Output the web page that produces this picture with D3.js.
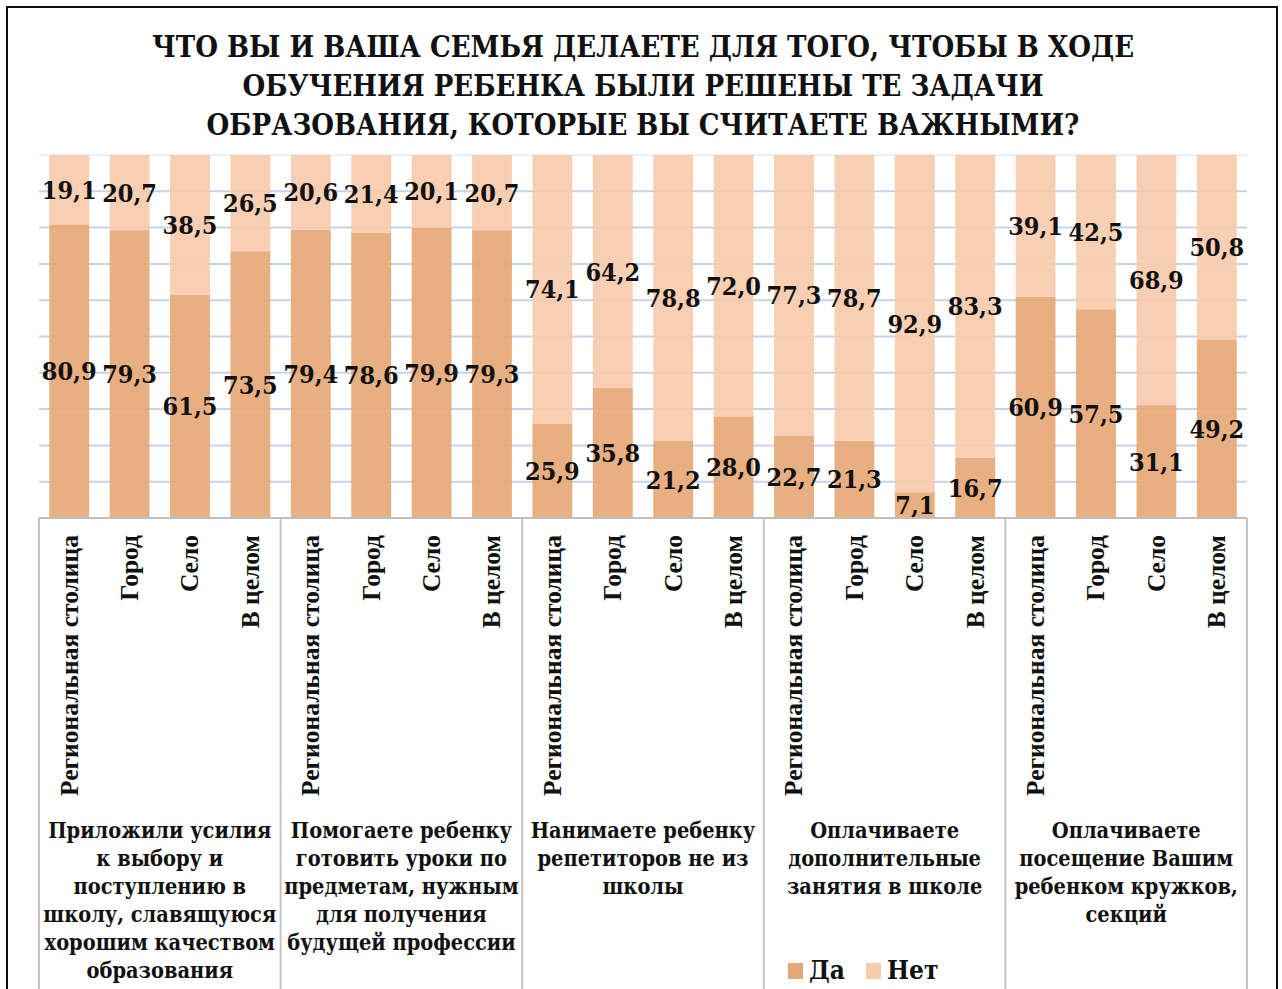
<!DOCTYPE html>
<html>
<head>
<meta charset="utf-8">
<script src="https://cdn.jsdelivr.net/npm/d3@7"></script>
<style>
  body { margin: 0; background: #fff; }
  .cam { font-family: "DejaVu Serif Condensed", "DejaVu Serif", serif; font-stretch: condensed; font-weight: bold; }
  .tnr { font-family: "Liberation Serif", "Times New Roman", serif; font-weight: bold; }
</style>
</head>
<body>
<div id="chart-area"></div>
<script>
/*
*    chart.js
*/

var titleLines = ["ЧТО ВЫ И ВАША СЕМЬЯ ДЕЛАЕТЕ ДЛЯ ТОГО, ЧТОБЫ В ХОДЕ",
	"ОБУЧЕНИЯ РЕБЕНКА БЫЛИ РЕШЕНЫ ТЕ ЗАДАЧИ",
	"ОБРАЗОВАНИЯ, КОТОРЫЕ ВЫ СЧИТАЕТЕ ВАЖНЫМИ?"];

var places = ["Региональная столица", "Город", "Село", "В целом"];

var groups = [
	["Приложили усилия", "к выбору и", "поступлению в", "школу, славящуюся", "хорошим качеством", "образования"],
	["Помогаете ребенку", "готовить уроки по", "предметам, нужным", "для получения", "будущей профессии"],
	["Нанимаете ребенку", "репетиторов не из", "школы"],
	["Оплачиваете", "дополнительные", "занятия в школе"],
	["Оплачиваете", "посещение Вашим", "ребенком кружков,", "секций"]
];

var seriesNames = ["Да", "Нет"];
var seriesColors = ["#e6a876", "#f8cbad"];

var yes = [80.9, 79.3, 61.5, 73.5, 79.4, 78.6, 79.9, 79.3, 25.9, 35.8, 21.2, 28.0, 22.7, 21.3, 7.1, 16.7, 60.9, 57.5, 31.1, 49.2];
var no  = [19.1, 20.7, 38.5, 26.5, 20.6, 21.4, 20.1, 20.7, 74.1, 64.2, 78.8, 72.0, 77.3, 78.7, 92.9, 83.3, 39.1, 42.5, 68.9, 50.8];

var gridTicks = [10, 20, 30, 40, 50, 60, 70, 80, 90, 100];

var W = 1282, H = 989;
var plot = {left: 39, right: 1247, top: 155, bottom: 518};

var svg = d3.select("#chart-area").append("svg")
	.attr("width", W)
	.attr("height", H);

// build table of rows for the stack
var rows = yes.map((d, i) => {
	return {idx: i, group: Math.floor(i / 4), place: places[i % 4], "Да": d, "Нет": no[i]};
});

var x = d3.scaleBand()
	.domain(rows.map((d) => { return d.idx; }))
	.range([plot.left, plot.right])
	.paddingInner(0.34)
	.paddingOuter(0.17);

var y = d3.scaleLinear()
	.domain([0, 100])
	.range([plot.bottom, plot.top]);

var color = d3.scaleOrdinal()
	.domain(seriesNames)
	.range(seriesColors);

var stack = d3.stack()
	.keys(seriesNames)
	.offset(d3.stackOffsetExpand);

var stacked = stack(rows);

// title
var title = svg.append("text")
	.attr("class", "cam")
	.attr("x", 643)
	.attr("y", 57)
	.attr("font-size", "29px")
	.attr("text-anchor", "middle")
	.attr("fill", "#111");

title.selectAll("tspan").data(titleLines).enter().append("tspan")
	.attr("x", 643)
	.attr("dy", (d, i) => { return i == 0 ? 0 : 39; })
	.text((d) => { return d; });

// gridlines
svg.append("g").selectAll("line").data(gridTicks).enter().append("line")
	.attr("x1", plot.left)
	.attr("x2", plot.right)
	.attr("y1", (d) => { return y(d); })
	.attr("y2", (d) => { return y(d); })
	.attr("stroke", (d) => { return d == 100 ? "#eaf0f9" : "#c5d4eb"; })
	.attr("stroke-width", 2);

// bars
var layers = svg.append("g").selectAll("g").data(stacked).enter().append("g")
	.attr("fill", (d) => { return color(d.key); })
	.attr("fill-opacity", 0.92);

layers.selectAll("rect").data((d) => { return d; }).enter().append("rect")
	.attr("x", (d) => { return x(d.data.idx); })
	.attr("width", x.bandwidth())
	.attr("y", (d) => { return y(d[1] * 100); })
	.attr("height", (d) => { return y(d[0] * 100) - y(d[1] * 100); });

// value labels
var labels = svg.append("g").selectAll("g").data(stacked).enter().append("g");

labels.selectAll("text").data((d) => { return d.map((p) => { return {p: p, key: d.key}; }); }).enter().append("text")
	.attr("class", "cam")
	.attr("font-size", "25px")
	.attr("text-anchor", "middle")
	.attr("fill", "#111")
	.attr("x", (d) => { return x(d.p.data.idx) + x.bandwidth() / 2; })
	.attr("y", (d) => { return y((d.p[0] + d.p[1]) / 2 * 100); })
	.attr("dy", "0.36em")
	.text((d) => { return d3.format(".1f")(d.p.data[d.key]).replace(".", ","); });

// axis line and group separators
svg.append("line")
	.attr("x1", plot.left).attr("x2", plot.right)
	.attr("y1", plot.bottom).attr("y2", plot.bottom)
	.attr("stroke", "#bfbfbf").attr("stroke-width", 2);

var sepX = d3.range(groups.length + 1).map((g) => {
	return g < groups.length ? x(g * 4) - x.step() * 0.17 : plot.right;
});

svg.append("g").selectAll("line").data(sepX).enter().append("line")
	.attr("x1", (d) => { return d; })
	.attr("x2", (d) => { return d; })
	.attr("y1", plot.bottom)
	.attr("y2", H)
	.attr("stroke", "#c4c4c4")
	.attr("stroke-width", 2);

// category labels (rotated)
svg.append("g").selectAll("text").data(rows).enter().append("text")
	.attr("class", "tnr")
	.attr("font-size", "25.5px")
	.attr("text-anchor", "end")
	.attr("fill", "#111")
	.attr("transform", (d) => { return "translate(" + (x(d.idx) + x.bandwidth() / 2) + "," + 535 + ") rotate(-90)"; })
	.attr("dy", "0.33em")
	.text((d) => { return d.place; });

// group labels
groups.forEach((lines, g) => {
	var cx = (sepX[g] + sepX[g + 1]) / 2;
	svg.append("text")
		.attr("class", "cam")
		.attr("font-size", "21.6px")
		.attr("text-anchor", "middle")
		.attr("fill", "#111")
		.selectAll("tspan").data(lines).enter().append("tspan")
		.attr("x", cx)
		.attr("y", (d, i) => { return 838 + i * 28; })
		.text((d) => { return d; });
});

// legend
var legend = svg.append("g");
var legX = [788, 866];
seriesNames.forEach((s, i) => {
	legend.append("rect")
		.attr("x", legX[i])
		.attr("y", 963)
		.attr("width", 15)
		.attr("height", 16)
		.attr("fill", color(s));
	legend.append("text")
		.attr("class", "cam")
		.attr("x", legX[i] + 21)
		.attr("y", 979)
		.attr("font-size", "26px")
		.attr("fill", "#111")
		.text(s);
});

// outer border
svg.append("rect")
	.attr("x", 7)
	.attr("y", 7)
	.attr("width", 1270)
	.attr("height", H + 10)
	.attr("fill", "none")
	.attr("stroke", "#111")
	.attr("stroke-width", 2);
</script>
</body>
</html>
